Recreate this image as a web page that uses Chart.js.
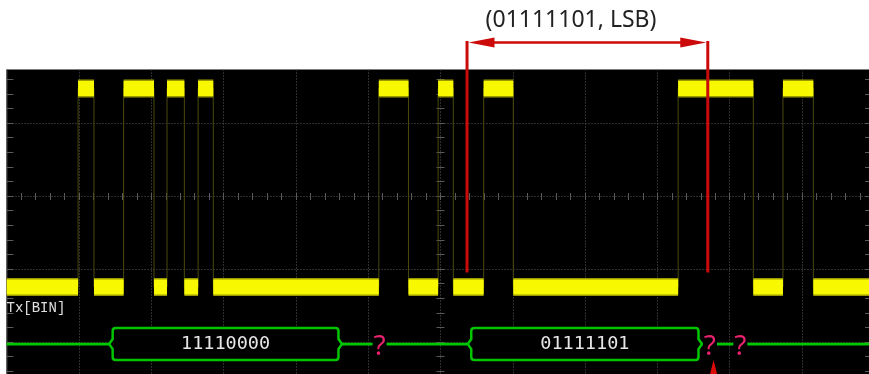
<!DOCTYPE html>
<html>
<head>
<meta charset="utf-8">
<script src="https://cdn.jsdelivr.net/npm/chart.js@4.4.1/dist/chart.umd.min.js"></script>
<style>
  html, body { margin: 0; background: #fff; }
  canvas { display: block; }
</style>
</head>
<body>
<canvas id="scope" width="869" height="374"></canvas>
<script>
// Screen units are graticule divisions: x from the left edge, y from the centre line
const edgeTimes = [0.99, 1.21, 1.62, 2.04, 2.22, 2.46, 2.65, 2.86, 5.15, 5.56, 5.97, 6.18, 6.60, 7.01, 9.29, 10.33, 10.74, 11.16];
const txStates  = [0, 1, 0, 1, 0, 1, 0, 1, 0, 1, 0, 1, 0, 1, 0, 1, 0, 1, 0];
const highLevel = 1.47;
const lowLevel = -1.25;

const busLevel = -2.03;
const frameStarts = [1.42, 6.38];
const frameEnds   = [4.64, 9.62];
const frameLabels = ['11110000', '01111101'];
const errorMarks  = [5.16, 9.73, 10.15];

const cursorTimes = [6.37, 9.70];
const cursorTop = 2.10;
const cursorBottom = -1.05;
const triggerMark = 9.78;
const cursorLabel = '(01111101, LSB)';
const channelLabel = 'Tx[BIN]';

const xMax = 11.93, yMin = -2.44, yMax = 1.73;

const lvl = s => (s ? highLevel : lowLevel);

// edges: thin stepped trace
const edgePts = [{ x: 0, y: lvl(txStates[0]) }];
edgeTimes.forEach((t, i) => edgePts.push({ x: t, y: lvl(txStates[i + 1]) }));
edgePts.push({ x: xMax, y: lvl(txStates[txStates.length - 1]) });

// thick bands for each steady level
const bounds = [0, ...edgeTimes, xMax];
function bandPoints() {
  const pts = [];
  txStates.forEach((s, i) => {
    pts.push({ x: bounds[i], y: lvl(s) }, { x: bounds[i + 1], y: lvl(s) }, { x: bounds[i + 1], y: null });
  });
  return pts;
}

// idle bus line between frames
const idle = [0, ...frameStarts.flatMap((s, i) => [s, frameEnds[i]]), xMax];
const busPts = [];
for (let i = 0; i < idle.length; i += 2) {
  busPts.push({ x: idle[i], y: busLevel }, { x: idle[i + 1], y: busLevel }, { x: idle[i + 1], y: null });
}

function seg(ctx, x0, y0, x1, y1) {
  ctx.beginPath(); ctx.moveTo(x0, y0); ctx.lineTo(x1, y1); ctx.stroke();
}

const scopeScreen = {
  id: 'scopeScreen',
  beforeDatasetsDraw(chart) {
    const { ctx, chartArea: a, scales: { x, y } } = chart;
    ctx.save();
    ctx.fillStyle = '#000';
    ctx.fillRect(a.left, a.top, a.right - a.left, a.bottom - a.top);

    // dotted graticule
    ctx.strokeStyle = '#5a5a5a';
    ctx.lineWidth = 1;
    ctx.setLineDash([1, 2]);
    for (let k = 1; k <= 11; k++) {
      const px = Math.round(x.getPixelForValue(k)) + 0.5;
      seg(ctx, px, a.top, px, a.bottom);
    }
    for (let k = -2; k <= 1; k++) {
      const py = Math.round(y.getPixelForValue(k)) + 0.5;
      seg(ctx, a.left, py, a.right, py);
    }
    ctx.setLineDash([]);

    // border + minor ticks
    ctx.strokeStyle = '#404040';
    seg(ctx, a.left + 0.5, a.top, a.left + 0.5, a.bottom);
    ctx.strokeStyle = '#5a5a5a';
    const cx = Math.round(x.getPixelForValue(6)) + 0.5;
    const cy = Math.round(y.getPixelForValue(0)) + 0.5;
    for (let t = 0.2; t < xMax; t += 0.2) {
      const px = Math.round(x.getPixelForValue(t)) + 0.5;
      seg(ctx, px, cy - 3.5, px, cy + 3.5);
    }
    for (let v = -2.4; v < yMax; v += 0.2) {
      const py = Math.round(y.getPixelForValue(v)) + 0.5;
      seg(ctx, cx - 4, py, cx + 4, py);
      seg(ctx, a.left, py, a.left + 7, py);
      seg(ctx, a.right - 4, py, a.right, py);
    }
    ctx.restore();
  },
  afterDatasetsDraw(chart) {
    const { ctx, chartArea: a, scales: { x, y } } = chart;
    ctx.save();
    const yc = y.getPixelForValue(busLevel);
    const h = 16;

    // decoded frames
    frameStarts.forEach((s, i) => {
      const x0 = x.getPixelForValue(s), x1 = x.getPixelForValue(frameEnds[i]);
      const n = 3.5, r = 3;
      ctx.beginPath();
      ctx.moveTo(x0 + n + r, yc - h);
      ctx.lineTo(x1 - n - r, yc - h);
      ctx.quadraticCurveTo(x1 - n, yc - h, x1 - n, yc - h + r);
      ctx.lineTo(x1 - n, yc - 5);
      ctx.lineTo(x1, yc);
      ctx.lineTo(x1 - n, yc + 5);
      ctx.lineTo(x1 - n, yc + h - r);
      ctx.quadraticCurveTo(x1 - n, yc + h, x1 - n - r, yc + h);
      ctx.lineTo(x0 + n + r, yc + h);
      ctx.quadraticCurveTo(x0 + n, yc + h, x0 + n, yc + h - r);
      ctx.lineTo(x0 + n, yc + 5);
      ctx.lineTo(x0, yc);
      ctx.lineTo(x0 + n, yc - 5);
      ctx.lineTo(x0 + n, yc - h + r);
      ctx.quadraticCurveTo(x0 + n, yc - h, x0 + n + r, yc - h);
      ctx.closePath();
      ctx.fillStyle = '#000';
      ctx.fill();
      ctx.strokeStyle = '#00c400';
      ctx.lineWidth = 2.5;
      ctx.stroke();
      ctx.fillStyle = '#e6e6e6';
      ctx.font = '18.5px "DejaVu Sans Mono"';
      ctx.textAlign = 'center';
      ctx.textBaseline = 'middle';
      ctx.fillText(frameLabels[i], (x0 + x1) / 2, yc);
    });

    // error marks on the bus
    ctx.font = '28px "Noto Sans"';
    ctx.textAlign = 'center';
    ctx.textBaseline = 'alphabetic';
    errorMarks.forEach(t => {
      const px = x.getPixelForValue(t);
      ctx.fillStyle = '#000';
      ctx.fillRect(px - 7, yc - 3, 14, 6);
      ctx.fillStyle = '#e8226c';
      ctx.fillText('?', px, yc + 11);
    });

    // channel label
    ctx.fillStyle = '#e0e0e0';
    ctx.font = '14px "Liberation Mono"';
    ctx.textAlign = 'left';
    ctx.fillText(channelLabel, a.left, 312);

    // cursor annotation
    ctx.strokeStyle = '#cc0a0a';
    ctx.fillStyle = '#cc0a0a';
    ctx.lineWidth = 3;
    const c0 = x.getPixelForValue(cursorTimes[0]), c1 = x.getPixelForValue(cursorTimes[1]);
    const ct = y.getPixelForValue(cursorTop), cb = y.getPixelForValue(cursorBottom);
    seg(ctx, c0, ct - 1.5, c0, cb);
    seg(ctx, c1, ct - 1.5, c1, cb);
    ctx.lineWidth = 2.5;
    seg(ctx, c0 + 10, ct, c1 - 10, ct);
    [[c0 + 1.5, 1], [c1 - 1.5, -1]].forEach(([tip, d]) => {
      ctx.beginPath();
      ctx.moveTo(tip, ct);
      ctx.lineTo(tip + d * 26, ct - 5);
      ctx.lineTo(tip + d * 26, ct + 5);
      ctx.closePath();
      ctx.fill();
    });
    ctx.fillStyle = '#222';
    ctx.font = '23px "Noto Sans"';
    ctx.textAlign = 'center';
    ctx.fillText(cursorLabel, 571, 27);

    // trigger marker
    const tm = x.getPixelForValue(triggerMark);
    ctx.fillStyle = '#dd0a0a';
    ctx.beginPath();
    ctx.moveTo(tm, 360);
    ctx.lineTo(tm + 3.5, a.bottom);
    ctx.lineTo(tm - 3.5, a.bottom);
    ctx.closePath();
    ctx.fill();
    ctx.restore();
  }
};

new Chart(document.getElementById('scope'), {
  type: 'line',
  data: {
    datasets: [
      { data: edgePts, stepped: true, borderColor: '#4a4a0e', borderWidth: 1, pointRadius: 0, order: 3 },
      { data: bandPoints(), borderColor: '#9a9a00', borderWidth: 18, pointRadius: 0, order: 2 },
      { data: bandPoints(), borderColor: '#f8f800', borderWidth: 15, pointRadius: 0, order: 1 },
      { data: busPts, borderColor: '#00c800', borderWidth: 2.8, pointRadius: 0, order: 0 }
    ]
  },
  options: {
    responsive: false,
    animation: false,
    events: [],
    layout: { padding: { left: 6.5, top: 69.5, right: 0, bottom: 0 } },
    plugins: { legend: { display: false }, tooltip: { enabled: false } },
    scales: {
      x: { type: 'linear', min: 0, max: xMax, display: false },
      y: { min: yMin, max: yMax, display: false }
    }
  },
  plugins: [scopeScreen]
});
</script>
</body>
</html>
